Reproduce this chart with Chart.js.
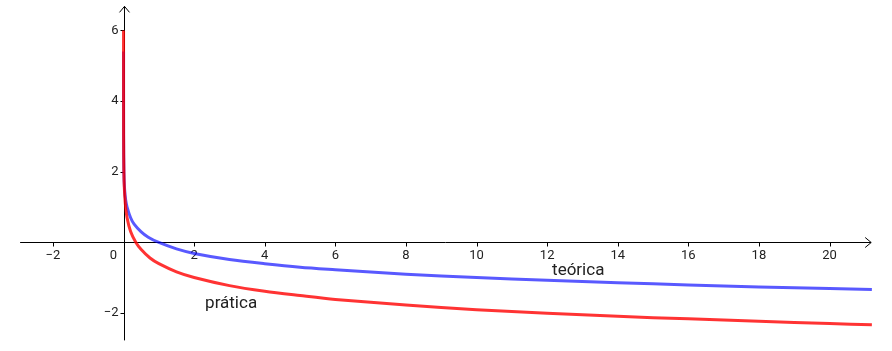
<!DOCTYPE html>
<html>
<head>
  <meta charset="UTF-8" />
  <title>teórica x prática</title>
  <style>
    html, body { margin: 0; padding: 0; background: #ffffff; }
    #wrap { position: relative; width: 892px; height: 351px; }
  </style>
</head>
<body>
  <div id="wrap"><canvas id="plot"></canvas></div>

  <script src="https://cdn.jsdelivr.net/npm/chart.js"></script>
  <script>
    // values
    const teoricaX = [0.000004, 0.001, 0.01, 0.03, 0.06, 0.1, 0.2, 0.3, 0.5, 0.7, 1, 1.5, 2, 3, 4, 5, 6, 8, 10, 12, 14, 16, 18, 20, 21.2];
    const teoricaY = [5.4, 3.0, 2.0, 1.5, 1.2, 1.0, 0.7, 0.52, 0.3, 0.15, 0, -0.18, -0.31, -0.48, -0.6, -0.7, -0.77, -0.9, -0.99, -1.07, -1.14, -1.2, -1.26, -1.3, -1.33];

    const praticaX = [0.000004, 0.0005, 0.005, 0.02, 0.05, 0.1, 0.2, 0.35, 0.5, 0.75, 1, 1.5, 2, 3, 4, 5, 6, 8, 10, 12, 14, 16, 18, 20, 21.2];
    const praticaY = [6.0, 3.7, 2.4, 1.6, 1.1, 0.7, 0.31, 0, -0.2, -0.44, -0.6, -0.83, -0.99, -1.22, -1.38, -1.5, -1.61, -1.77, -1.9, -2.0, -2.09, -2.16, -2.23, -2.29, -2.33];

    const xTicks = [-2, 2, 4, 6, 8, 10, 12, 14, 16, 18, 20];
    const yTicks = [-2, 2, 4, 6];

    const curveLabels = [
      { text: 'teórica', x: 12.14, y: -0.79 },
      { text: 'prática', x: 2.31, y: -1.74 }
    ];

    const toPoints = (xs, ys) => xs.map((x, i) => ({ x, y: ys[i] }));
    const minus = v => (v < 0 ? '\u2212' + Math.abs(v) : String(v));

    // axes through the origin, drawn with the chart's own scales
    const originAxes = {
      id: 'originAxes',
      beforeDatasetsDraw(chart) {
        const ctx = chart.ctx;
        const sx = chart.scales.x, sy = chart.scales.y;
        const x0 = Math.round(sx.getPixelForValue(0)) + 0.5;
        const y0 = Math.round(sy.getPixelForValue(0)) + 0.5;
        const xEnd = sx.getPixelForValue(21.18);
        const xStart = sx.getPixelForValue(-2.93);
        const yTop = sy.getPixelForValue(6.68);
        const yBot = sy.getPixelForValue(-2.77);

        ctx.save();
        ctx.strokeStyle = '#000000';
        ctx.lineWidth = 1;
        ctx.beginPath();
        ctx.moveTo(xStart, y0); ctx.lineTo(xEnd, y0);
        ctx.moveTo(x0, yBot); ctx.lineTo(x0, yTop);
        // arrow heads
        ctx.moveTo(xEnd - 6, y0 - 5); ctx.lineTo(xEnd, y0); ctx.lineTo(xEnd - 6, y0 + 5);
        ctx.moveTo(x0 - 5, yTop + 6); ctx.lineTo(x0, yTop); ctx.lineTo(x0 + 5, yTop + 6);

        xTicks.forEach(v => {
          const px = Math.round(sx.getPixelForValue(v)) + 0.5;
          ctx.moveTo(px, y0); ctx.lineTo(px, y0 + 4);
        });
        yTicks.forEach(v => {
          const py = Math.round(sy.getPixelForValue(v)) + 0.5;
          ctx.moveTo(x0 - 4, py); ctx.lineTo(x0, py);
        });
        ctx.stroke();

        ctx.fillStyle = '#222222';
        ctx.font = '13px Roboto, "Open Sans", sans-serif';
        ctx.textAlign = 'center';
        ctx.textBaseline = 'middle';
        xTicks.forEach(v => {
          ctx.fillText(minus(v), sx.getPixelForValue(v), y0 + 13);
        });
        ctx.fillText('0', x0 - 11, y0 + 13);
        ctx.textAlign = 'right';
        yTicks.forEach(v => {
          ctx.fillText(minus(v), x0 - 6, sy.getPixelForValue(v));
        });
        ctx.restore();
      },
      afterDatasetsDraw(chart) {
        const ctx = chart.ctx;
        ctx.save();
        ctx.fillStyle = '#222222';
        ctx.font = '17px Roboto, "Open Sans", sans-serif';
        ctx.textAlign = 'left';
        ctx.textBaseline = 'middle';
        curveLabels.forEach(l => {
          ctx.fillText(l.text, chart.scales.x.getPixelForValue(l.x), chart.scales.y.getPixelForValue(l.y));
        });
        ctx.restore();
      }
    };

    new Chart(document.getElementById('plot'), {
      type: 'scatter',
      data: {
        datasets: [
          {
            label: 'prática',
            data: toPoints(praticaX, praticaY),
            showLine: true,
            borderColor: 'rgba(255, 0, 0, 0.8)',
            borderWidth: 3,
            pointRadius: 0,
            tension: 0.3,
            order: 0
          },
          {
            label: 'teórica',
            data: toPoints(teoricaX, teoricaY),
            showLine: true,
            borderColor: 'rgba(0, 0, 255, 0.65)',
            borderWidth: 3,
            pointRadius: 0,
            tension: 0.3,
            order: 1
          }
        ]
      },
      options: {
        responsive: true,
        maintainAspectRatio: false,
        animation: false,
        layout: { padding: 0 },
        plugins: {
          legend: { display: false },
          tooltip: { enabled: false }
        },
        scales: {
          x: { type: 'linear', min: -3.5, max: 21.77, display: false },
          y: { type: 'linear', min: -3.07, max: 6.86, display: false }
        }
      },
      plugins: [originAxes]
    });
  </script>
</body>
</html>
